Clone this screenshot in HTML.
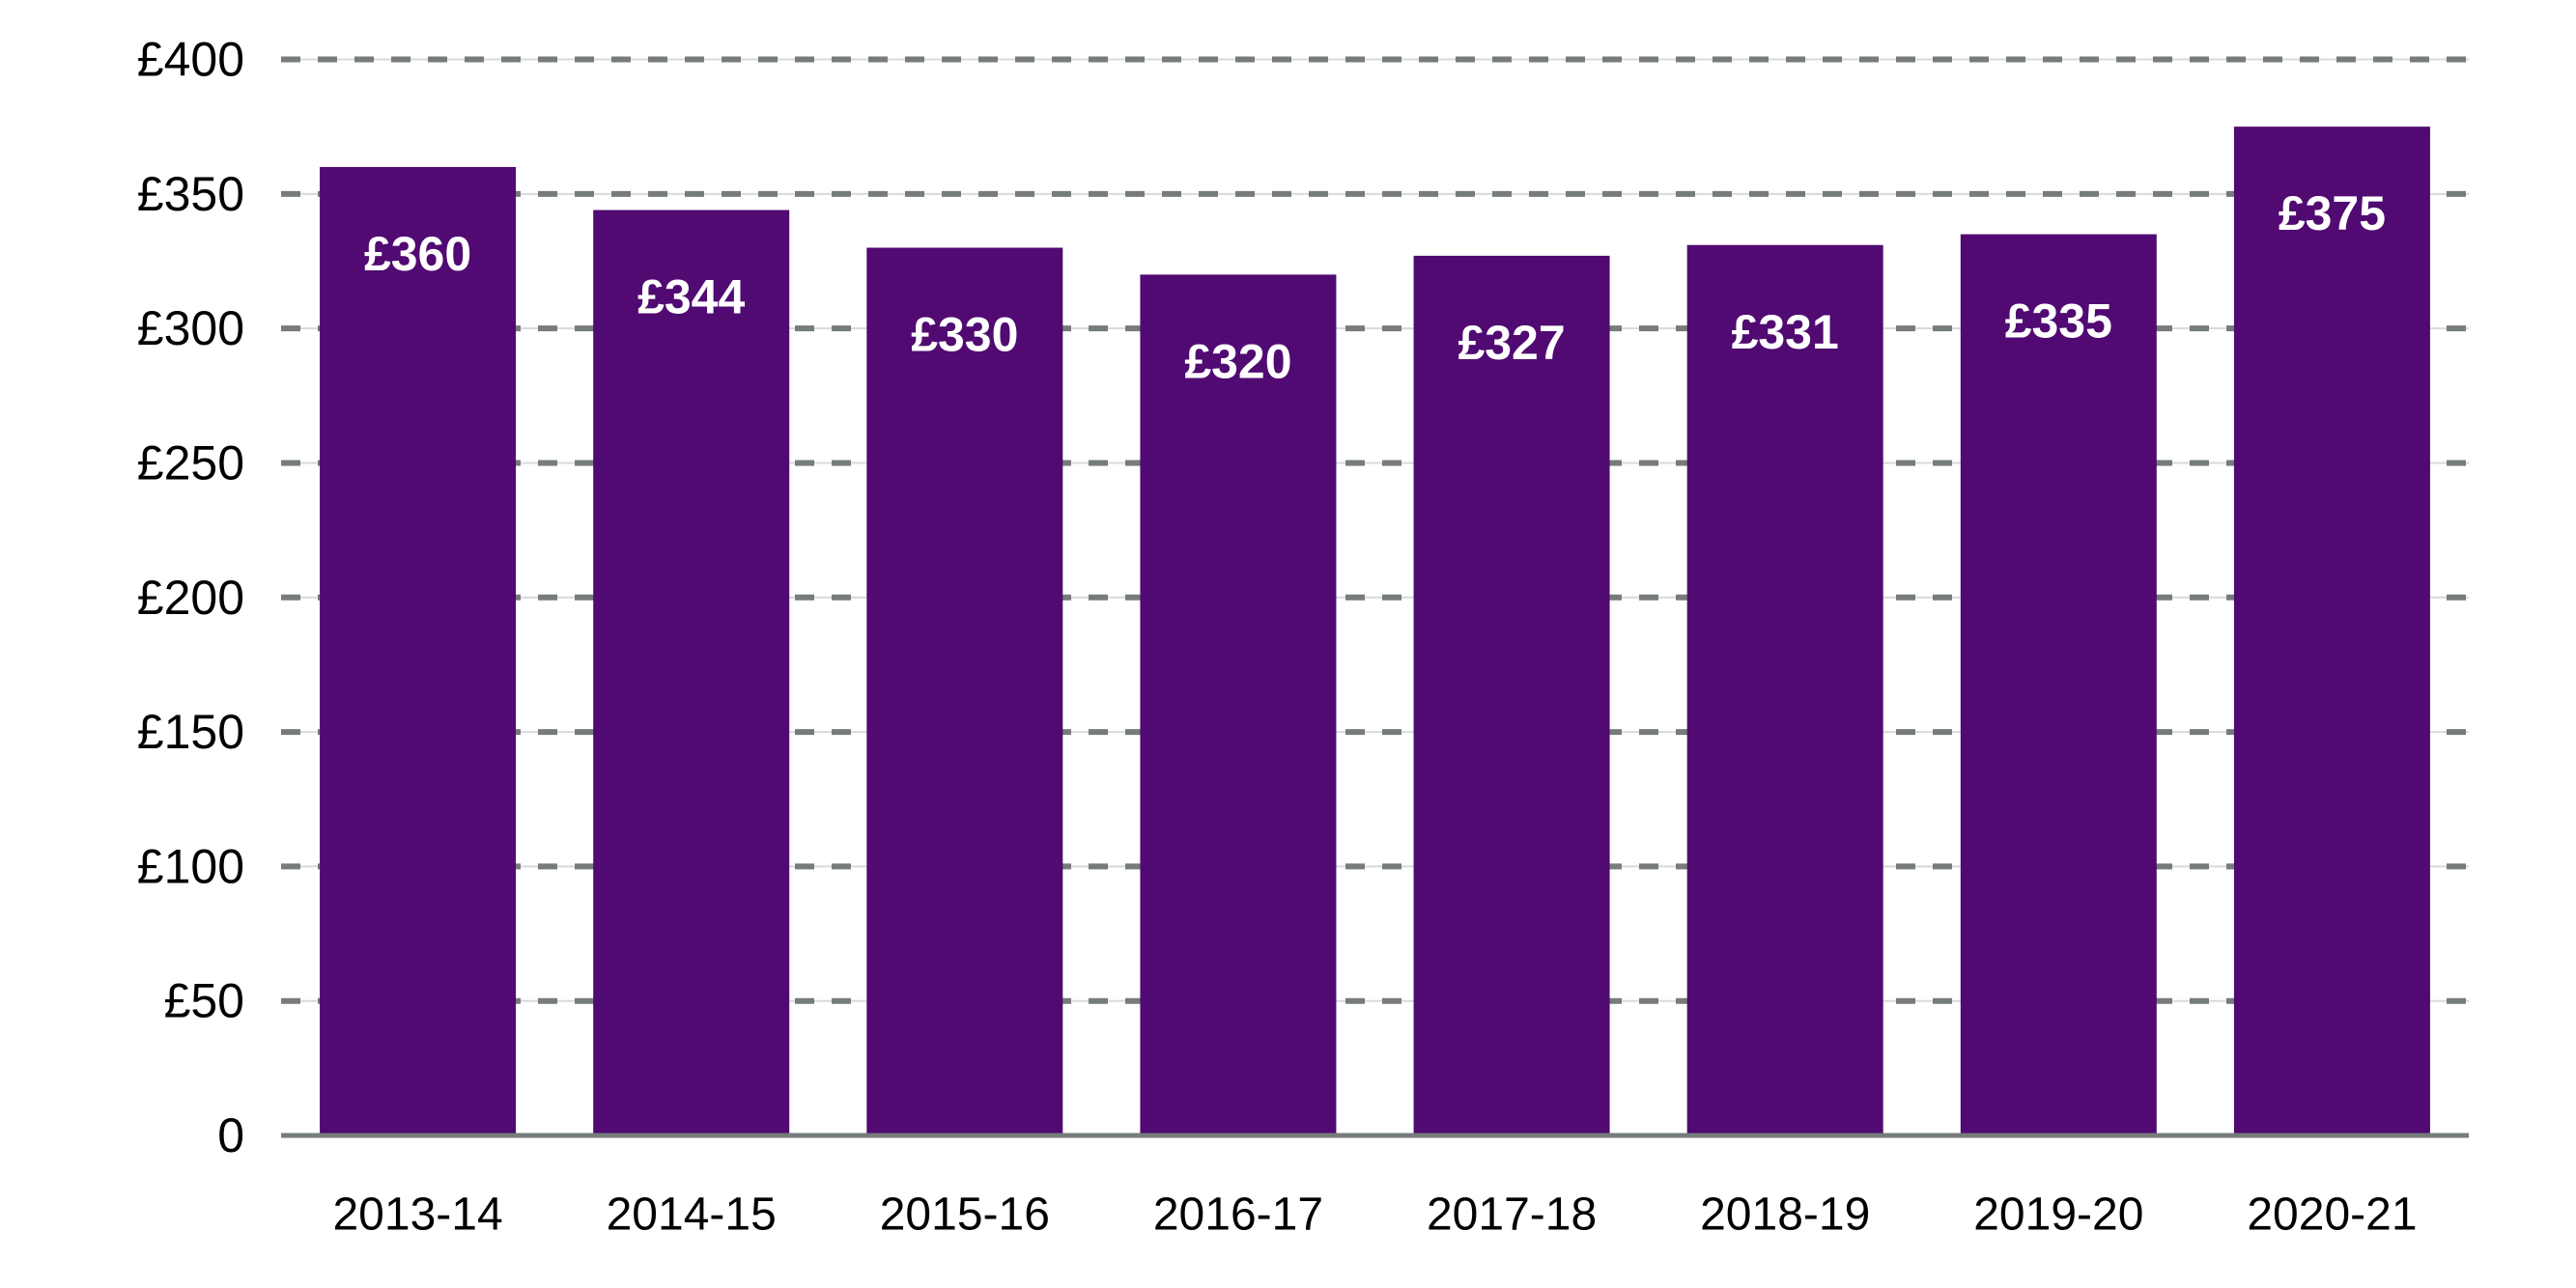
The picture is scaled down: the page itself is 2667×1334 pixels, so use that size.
<!DOCTYPE html>
<html><head><meta charset="utf-8"><style>
html,body{margin:0;padding:0;background:#fff;}
svg{display:block;font-family:"Liberation Sans",sans-serif;}
</style></head><body>
<svg id="chart" width="2667" height="1334" viewBox="0 0 2667 1334"></svg>
<script>
const categories = ["2013-14","2014-15","2015-16","2016-17","2017-18","2018-19","2019-20","2020-21"];
const values = [360,344,330,320,327,331,335,375];
const valueLabels = ["£360","£344","£330","£320","£327","£331","£335","£375"];
const yTicks = [0,50,100,150,200,250,300,350,400];
const yTickLabels = ["0","£50","£100","£150","£200","£250","£300","£350","£400"];

const NS = "http://www.w3.org/2000/svg";
const svg = document.getElementById('chart');
const plotL = 291, plotR = 2556, yTop = 61.5, yBot = 1176, yMax = 400;
const y = v => yBot - (v / yMax) * (yBot - yTop);
const band = (plotR - plotL) / categories.length;
const x = i => plotL + band * i + band / 2;
const barW = 203;

function mk(tag, attrs, parent) {
  const e = document.createElementNS(NS, tag);
  for (const k in attrs) e.setAttribute(k, attrs[k]);
  (parent || svg).appendChild(e);
  return e;
}

const grid = mk('g', {});


yTicks.forEach((t, i) => {
  if (t > 0) {
    const l1 = mk('line', {x1: plotL, x2: plotR, y1: y(t), y2: y(t), stroke: '#d9d9d9', 'stroke-width': 2}, grid);
    
    
    const l2 = mk('line', {x1: plotL, x2: plotR, y1: y(t), y2: y(t), stroke: '#767b7b', 'stroke-width': 6, 'stroke-dasharray': '20 18'}, grid);
    
    
  }
  const tx = mk('text', {x: 253, y: y(t), 'text-anchor': 'end', 'dominant-baseline': 'central', 'font-size': 50, fill: '#000'});
  tx.textContent = yTickLabels[i];
  
  
});

categories.forEach((c, i) => {
  const r = mk('rect', {x: x(i) - barW / 2, y: y(values[i]), width: barW, height: yBot - y(values[i]), fill: '#500a72'});
  
  
  const vl = mk('text', {x: x(i), y: y(values[i]) + 90, 'text-anchor': 'middle', 'dominant-baseline': 'central', 'font-size': 50, 'font-weight': 'bold', fill: '#fff'});
  vl.textContent = valueLabels[i];
  
  
  const xl = mk('text', {x: x(i), y: 1258, 'text-anchor': 'middle', 'dominant-baseline': 'central', 'font-size': 48, fill: '#000'});
  xl.textContent = c;
  
  
});

const axis = mk('line', {x1: plotL, x2: plotR, y1: yBot, y2: yBot, stroke: '#767b7b', 'stroke-width': 5});


</script>
</body></html>
